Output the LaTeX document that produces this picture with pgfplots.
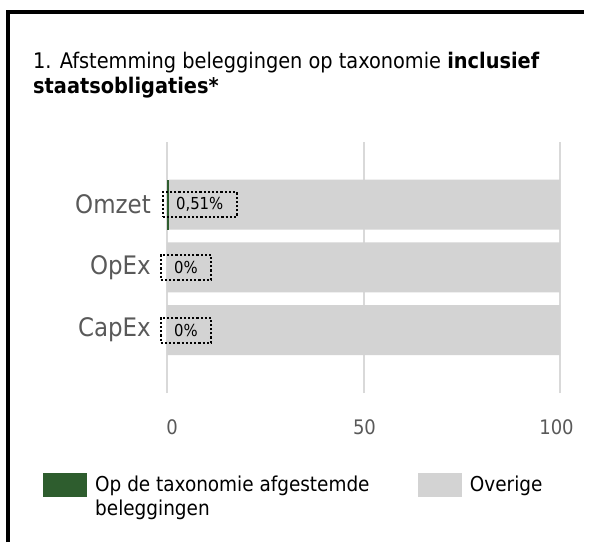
\documentclass[border=0pt]{standalone}
\usepackage{fontspec}
\setmainfont{DejaVu Sans Condensed}
\usepackage{pgfplots}
\pgfplotsset{compat=1.18}
\definecolor{taxgreen}{HTML}{2E5D2E}
\definecolor{restgray}{HTML}{D3D3D3}
\definecolor{gridgray}{HTML}{D9D9D9}
\definecolor{labelgray}{HTML}{595959}

\begin{document}
\begin{tikzpicture}
\path[use as bounding box] (0pt,0pt) rectangle (590pt,542pt);
\draw[line width=4pt, line join=miter] (8pt,0pt) -- (8pt,530pt) -- (584pt,530pt);
\node[anchor=base west, inner sep=0pt, font=\fontsize{21.5pt}{25pt}\selectfont] at (33pt,473.7pt) {1. Afstemming beleggingen op taxonomie \textbf{inclusief}};
\node[anchor=base west, inner sep=0pt, font=\fontsize{21.5pt}{25pt}\selectfont\bfseries] at (33pt,448.5pt) {staatsobligaties*};
\begin{axis}[
  at={(167pt,149pt)}, anchor=south west,
  scale only axis, width=393pt, height=251.3pt,
  xbar stacked, bar width=50pt,
  xmin=0, xmax=100, ymin=-1, ymax=3,
  xtick={0,50,100}, xticklabels={\hspace*{10pt}0,\hspace*{2pt}50,100\hspace*{7pt}},
  ytick={0,1,2}, yticklabels={CapEx,OpEx,Omzet},
  /pgf/number format/assume math mode=true,
  axis line style={draw=none}, major tick length=0pt,
  xmajorgrids,
  major grid style={draw=gridgray, line width=2pt},
  xticklabel style={anchor=base, yshift=-41pt, text=labelgray, font=\fontsize{20pt}{24pt}\selectfont},
  yticklabel style={anchor=east, inner sep=0pt, xshift=-16pt, text=labelgray, font=\fontsize{25.5pt}{30pt}\selectfont},
  legend columns=2,
  legend style={at={(-0.3155,-0.3183)}, anchor=north west, draw=none, fill=none, inner sep=0pt,
    nodes={inner sep=0pt}, column sep=8pt,
    /tikz/every even column/.append style={column sep=22.7pt},
    font=\fontsize{20.5pt}{24pt}\selectfont},
  legend cell align=left,
  legend image code/.code={\path[#1,draw=none] (0pt,-13pt) rectangle (44pt,11pt);},
]
\addplot[fill=taxgreen, draw=none] coordinates {(0.51,2) (0,1) (0,0)};
\addplot[fill=restgray, draw=none] coordinates {(99.49,2) (100,1) (100,0)};
\legend{\parbox[t]{300pt}{\raggedright Op de taxonomie afgestemde\\beleggingen}, Overige}
\end{axis}
\begin{axis}[
  at={(167pt,149pt)}, anchor=south west,
  scale only axis, width=393pt, height=251.3pt,
  xmin=0, xmax=100, ymin=-1, ymax=3,
  hide axis, clip=false,
]
\addplot[only marks, mark=none, point meta=explicit symbolic,
  nodes near coords,
  every node near coord/.append style={anchor=west, xshift=-7.5pt, yshift=0pt, draw=black, line width=2.2pt,
    dash pattern=on 2.2pt off 2pt, inner xsep=13.5pt, inner ysep=0pt, minimum height=25pt,
    text=black, font=\fontsize{16.5pt}{19pt}\selectfont}]
  coordinates {(0.51,2) [{0,51\%}] (0,1) [{0\%}] (0,0) [{0\%}]};
\end{axis}
\end{tikzpicture}
\end{document}
